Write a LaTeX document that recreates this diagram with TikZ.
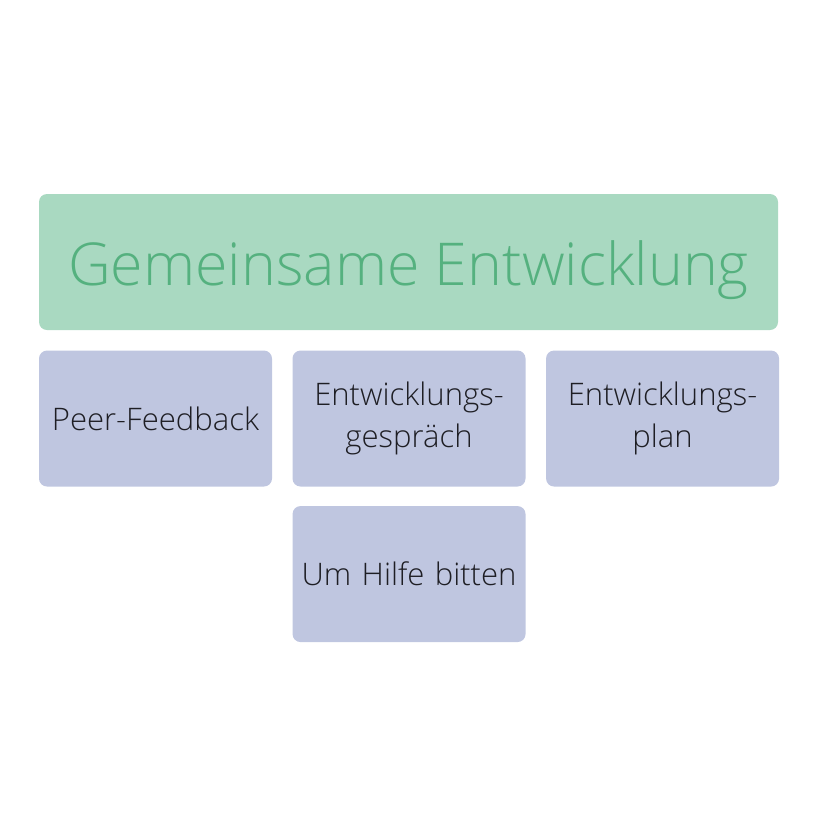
\documentclass[tikz,border=0pt]{standalone}
\usepackage{fontspec}
\setmainfont{Open Sans Light}
\usepackage{xcolor}
\usetikzlibrary{positioning}

\definecolor{headfill}{HTML}{A9D9C1}
\definecolor{headtext}{HTML}{55B17F}
\definecolor{itemfill}{HTML}{BFC6E0}
\definecolor{itemtext}{HTML}{1E1E24}

\begin{document}
\begin{tikzpicture}[
    x=0.75pt, y=-0.75pt,
    node distance=15pt,
    head/.style={rectangle, rounded corners=6pt, fill=headfill, text=headtext, minimum width=554.25pt, minimum height=102pt, text height=34.5pt, text depth=0pt, font=\fontsize{44.3}{52}\selectfont},
    item/.style={rectangle, rounded corners=6pt, fill=itemfill, text=itemtext, inner xsep=0pt, minimum width=174.75pt, minimum height=102pt, text width=172pt, align=center, font=\fontsize{23.3}{31.5}\selectfont}
]
    \useasboundingbox (0,0) rectangle (816,836);
    \node[head] (top) at (408.5,262) {Gemeinsame Entwicklung};
    \node[item, below right=15pt and 0pt of top.south west] (peer) {Peer-Feedback};
    \node[item, right=of peer] (talk) {Entwicklungs-\\gespräch};
    \node[item, right=of talk] (plan) {Entwicklungs-\\plan};
    \node[item, below=14.25pt of talk] (help) {Um Hilfe bitten};

\end{tikzpicture}
\end{document}
